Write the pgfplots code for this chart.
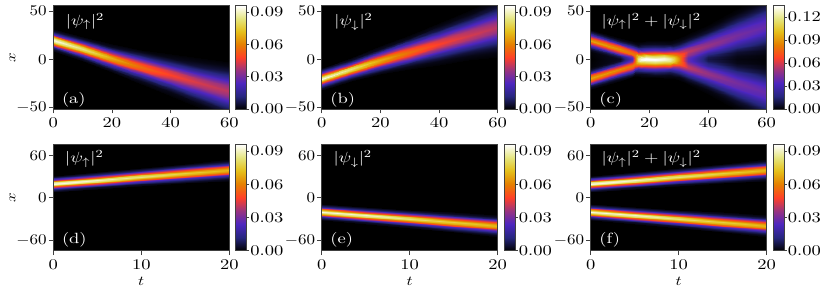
\documentclass[border=0pt]{standalone}
\usepackage{graphicx}
\usepackage{pgfplots}
\usepackage{pgfplotstable}
\pgfplotsset{compat=1.18}
\newcommand{\tfont}{\fontsize{10.95}{13}\selectfont}
\newcommand{\sx}[1]{\scalebox{1.25}[1]{#1}}
\newcommand{\sy}[1]{\scalebox{1.15}[1]{#1}}
\tikzset{lab/.style={text=white, inner sep=0pt, font=\tfont}}
\pgfplotsset{
  colormap={cmr}{rgb=(0,0,0) rgb=(0.15,0.15,0.5) rgb=(0.3,0.15,0.75) rgb=(0.6,0.2,0.5) rgb=(1,0.25,0.15) rgb=(0.9,0.5,0) rgb=(0.9,0.75,0.1) rgb=(0.9,0.9,0.5) rgb=(1,1,1)},
  heat/.style={
    scale only axis, width=130.24pt,
    axis background/.style={fill=black},
    colormap name=cmr,
    axis on top,
    enlargelimits=false,
    tick align=outside, xtick pos=left, ytick pos=left,
    major tick length=3.2pt,
    axis line style={line width=0.6pt, black!75},
    tick style={line width=0.6pt, black!75},
    tick label style={font=\tfont},
    yticklabel style={inner sep=1.5pt},
    label style={font=\tfont},
    xticklabel={\sx{$\pgfmathprintnumber{\tick}$}},
    yticklabel={\sy{$\pgfmathprintnumber{\tick}$}},
    point meta min=0,
    colorbar,
    colorbar shift/.style={xshift=4.74pt},
    colorbar style={
      at={(parent axis.north east)}, anchor=north west,
      width=8.14pt,
      tick align=outside, ytick pos=right, yticklabel pos=right,
      major tick length=2pt,
      axis line style={line width=0.6pt, black!75},
      tick style={line width=0.6pt, black!75},
      scaled y ticks=false,
      yticklabel style={font=\tfont, inner sep=0.6pt},
      yticklabel={\sx{$\pgfmathprintnumber[fixed,fixed zerofill,precision=2]{\tick}$}},
    },
    every axis y label/.style={at={(rel axis cs:-0.232,0.5)}, rotate=90, anchor=center},
    every axis x label/.style={at={(rel axis cs:0.5,-0.285)}, anchor=center},
  },
  toprow/.style={heat, height=76.44pt, xmin=0, xmax=60, ymin=-51.5, ymax=55.5,
    xtick={0,20,40,60}, ytick={-50,0,50}},
  botrow/.style={heat, height=78.74pt, xmin=0, xmax=20, ymin=-75, ymax=76,
    xtick={0,10,20}, ytick={-60,0,60}},
}
\pgfplotstableread{
t x xm c
0 8.6 -8.6 0.00104
0 10.5 -10.5 0.00413
0 12.4 -12.4 0.01272
0 14.3 -14.3 0.03052
0 16.2 -16.2 0.05701
0 18.1 -18.1 0.08296
0 20 -20 0.094
0 21.9 -21.9 0.08296
0 23.8 -23.8 0.05701
0 25.7 -25.7 0.03052
0 27.6 -27.6 0.01272
0 29.5 -29.5 0.00413
0 31.4 -31.4 0.00104
10 -1.77 1.77 0.00093
10 0.275 -0.275 0.00369
10 2.32 -2.32 0.01137
10 4.365 -4.365 0.02727
10 6.41 -6.41 0.05095
10 8.455 -8.455 0.07413
10 10.5 -10.5 0.084
10 12.545 -12.545 0.07413
10 14.59 -14.59 0.05095
10 16.635 -16.635 0.02727
10 18.68 -18.68 0.01137
10 20.725 -20.725 0.00369
10 22.77 -22.77 0.00093
20 -13.61 13.61 0.00077
20 -11.175 11.175 0.00303
20 -8.74 8.74 0.00934
20 -6.305 6.305 0.0224
20 -3.87 3.87 0.04185
20 -1.435 1.435 0.06089
20 1.0 -1.0 0.069
20 3.435 -3.435 0.06089
20 5.87 -5.87 0.04185
20 8.305 -8.305 0.0224
20 10.74 -10.74 0.00934
20 13.175 -13.175 0.00303
20 15.61 -15.61 0.00077
30 -25.47 25.47 0.00063
30 -22.5 22.5 0.0025
30 -19.53 19.53 0.00771
30 -16.56 16.56 0.01851
30 -13.59 13.59 0.03457
30 -10.62 10.62 0.0503
30 -7.65 7.65 0.057
30 -4.68 4.68 0.0503
30 -1.71 1.71 0.03457
30 1.26 -1.26 0.01851
30 4.23 -4.23 0.00771
30 7.2 -7.2 0.0025
30 10.17 -10.17 0.00063
40 -37.66 37.66 0.00053
40 -34.075 34.075 0.00211
40 -30.49 30.49 0.00649
40 -26.905 26.905 0.01559
40 -23.32 23.32 0.02911
40 -19.735 19.735 0.04236
40 -16.15 16.15 0.048
40 -12.565 12.565 0.04236
40 -8.98 8.98 0.02911
40 -5.395 5.395 0.01559
40 -1.81 1.81 0.00649
40 1.775 -1.775 0.00211
40 5.36 -5.36 0.00053
50 -50.45 50.45 0.00048
50 -46.15 46.15 0.00189
50 -41.85 41.85 0.00582
50 -37.55 37.55 0.01396
50 -33.25 33.25 0.02608
50 -28.95 28.95 0.03795
50 -24.65 24.65 0.043
50 -20.35 20.35 0.03795
50 -16.05 16.05 0.02608
50 -11.75 11.75 0.01396
50 -7.45 7.45 0.00582
50 -3.15 3.15 0.00189
50 1.15 -1.15 0.00048
60 -64.05 64.05 0.00044
60 -58.9 58.9 0.00176
60 -53.75 53.75 0.00541
60 -48.6 48.6 0.01299
60 -43.45 43.45 0.02426
60 -38.3 38.3 0.0353
60 -33.15 33.15 0.040
60 -28.0 28.0 0.0353
60 -22.85 22.85 0.02426
60 -17.7 17.7 0.01299
60 -12.55 12.55 0.00541
60 -7.4 7.4 0.00176
60 -2.25 2.25 0.00044
}\tabA
\pgfplotstableread{
t x xm c
0 0 0 0
0 8.1 -8.1 0.00104
0 10.0 -10.0 0.00413
0 11.9 -11.9 0.01272
0 13.8 -13.8 0.03052
0 15.7 -15.7 0.05701
0 17.6 -17.6 0.08296
0 19.5 -19.5 0.094
0 21.4 -21.4 0.08296
0 23.3 -23.3 0.05701
0 25.2 -25.2 0.03052
0 27.1 -27.1 0.01272
0 29.0 -29.0 0.00413
0 30.9 -30.9 0.00104
10 0 0 0.00427
10 1.5 -1.5 0.00641
10 3 -3 0.01338
10 4.5 -4.5 0.02619
10 6 -6 0.04445
10 7.5 -7.5 0.06496
10 9 -9 0.08157
10 10.5 -10.5 0.088
10 12.425 -12.425 0.07766
10 14.35 -14.35 0.05337
10 16.275 -16.275 0.02857
10 18.2 -18.2 0.01191
10 20.125 -20.125 0.00386
10 22.05 -22.05 0.00098
14 0 0 0.03318
14 1 -1 0.03546
14 2 -2 0.04196
14 3 -3 0.05144
14 4 -4 0.06214
14 5 -5 0.07193
14 6 -6 0.07876
14 7 -7 0.08115
14 8.965 -8.965 0.07151
14 10.93 -10.93 0.04913
14 12.895 -12.895 0.0263
14 14.86 -14.86 0.01096
14 16.825 -16.825 0.00356
14 18.79 -18.79 0.0009
15 0 0 0.07778
15 0.714 -0.714 0.07825
15 1.429 -1.429 0.07951
15 2.143 -2.143 0.08128
15 2.857 -2.857 0.08308
15 3.571 -3.571 0.0844
15 4.286 -4.286 0.08472
15 5 -5 0.08364
15 7.1 -7.1 0.07097
15 9.2 -9.2 0.04817
15 11.3 -11.3 0.02569
15 13.4 -13.4 0.01069
15 15.5 -15.5 0.00347
15 17.6 -17.6 0.00088
16 0 0 0.12011
16 0.457 -0.457 0.11981
16 0.914 -0.914 0.11891
16 1.371 -1.371 0.11741
16 1.829 -1.829 0.11533
16 2.286 -2.286 0.11268
16 2.743 -2.743 0.10951
16 3.2 -3.2 0.10583
16 5.6 -5.6 0.08016
16 8 -8 0.05042
16 10.4 -10.4 0.02571
16 12.8 -12.8 0.01044
16 15.2 -15.2 0.00335
16 17.6 -17.6 0.00084
17 0 0 0.13212
17 0.314 -0.314 0.13192
17 0.629 -0.629 0.13135
17 0.943 -0.943 0.1304
17 1.257 -1.257 0.12907
17 1.571 -1.571 0.12739
17 1.886 -1.886 0.12537
17 2.2 -2.2 0.12301
17 4.85 -4.85 0.09326
17 7.5 -7.5 0.05716
17 10.15 -10.15 0.02814
17 12.8 -12.8 0.01105
17 15.45 -15.45 0.00344
17 18.1 -18.1 0.00085
19 0 0 0.135
19 0.171 -0.171 0.135
19 0.343 -0.343 0.13485
19 0.514 -0.514 0.13456
19 0.686 -0.686 0.13418
19 0.857 -0.857 0.13367
19 1.029 -1.029 0.13307
19 1.2 -1.2 0.13234
19 4.1 -4.1 0.10634
19 7.0 -7.0 0.06725
19 9.9 -9.9 0.03346
19 12.8 -12.8 0.01308
19 15.7 -15.7 0.00402
19 18.6 -18.6 0.00097
22 0 0 0.1348
22 0.114 -0.114 0.1347
22 0.229 -0.229 0.1346
22 0.343 -0.343 0.1344
22 0.457 -0.457 0.1342
22 0.571 -0.571 0.134
22 0.686 -0.686 0.1338
22 0.8 -0.8 0.13363
22 3.8 -3.8 0.11069
22 6.8 -6.8 0.07173
22 9.8 -9.8 0.03636
22 12.8 -12.8 0.01441
22 15.8 -15.8 0.00447
22 18.8 -18.8 0.00108
25 0 0 0.13018
25 0.143 -0.143 0.13014
25 0.286 -0.286 0.13004
25 0.429 -0.429 0.12986
25 0.571 -0.571 0.12961
25 0.714 -0.714 0.12929
25 0.857 -0.857 0.12889
25 1 -1 0.12844
25 4 -4 0.10489
25 7 -7 0.06716
25 10 -10 0.03373
25 13 -13 0.01327
25 16 -16 0.00409
25 19 -19 0.00099
27 0 0 0.12338
27 0.229 -0.229 0.12329
27 0.457 -0.457 0.12303
27 0.686 -0.686 0.12261
27 0.914 -0.914 0.12202
27 1.143 -1.143 0.12125
27 1.371 -1.371 0.12033
27 1.6 -1.6 0.11924
27 4.55 -4.55 0.09365
27 7.5 -7.5 0.0583
27 10.45 -10.45 0.02873
27 13.4 -13.4 0.01119
27 16.35 -16.35 0.00344
27 19.3 -19.3 0.00083
28 0 0 0.11383
28 0.343 -0.343 0.11366
28 0.686 -0.686 0.11317
28 1.029 -1.029 0.11235
28 1.371 -1.371 0.11122
28 1.714 -1.714 0.10977
28 2.057 -2.057 0.10804
28 2.4 -2.4 0.10602
28 5.3 -5.3 0.0804
28 8.2 -8.2 0.04928
28 11.1 -11.1 0.02426
28 14 -14 0.00953
28 16.9 -16.9 0.00296
28 19.8 -19.8 0.00073
30 0 0 0.08786
30 0.643 -0.643 0.08765
30 1.286 -1.286 0.08703
30 1.929 -1.929 0.08596
30 2.571 -2.571 0.08446
30 3.214 -3.214 0.08251
30 3.857 -3.857 0.08011
30 4.5 -4.5 0.07725
30 7.35 -7.35 0.05986
30 10.2 -10.2 0.03855
30 13.05 -13.05 0.02
30 15.9 -15.9 0.00822
30 18.75 -18.75 0.00265
30 21.6 -21.6 0.00067
33 0 0 0.03827
33 1.214 -1.214 0.03922
33 2.429 -2.429 0.04187
33 3.643 -3.643 0.0457
33 4.857 -4.857 0.04992
33 6.071 -6.071 0.05369
33 7.286 -7.286 0.05616
33 8.5 -8.5 0.05676
33 11.4 -11.4 0.04958
33 14.3 -14.3 0.03399
33 17.2 -17.2 0.01818
33 20.1 -20.1 0.00758
33 23 -23 0.00246
33 25.9 -25.9 0.00062
40 0 0 0.00941
40 2.143 -2.143 0.0111
40 4.286 -4.286 0.01598
40 6.429 -6.429 0.02351
40 8.571 -8.571 0.03254
40 10.714 -10.714 0.04128
40 12.857 -12.857 0.04766
40 15 -15 0.05
40 18.45 -18.45 0.04413
40 21.9 -21.9 0.03033
40 25.35 -25.35 0.01624
40 28.8 -28.8 0.00677
40 32.25 -32.25 0.0022
40 35.7 -35.7 0.00056
50 0 0 0.00215
50 3.571 -3.571 0.0032
50 7.143 -7.143 0.00663
50 10.714 -10.714 0.0129
50 14.286 -14.286 0.02183
50 17.857 -17.857 0.03181
50 21.429 -21.429 0.03988
50 25 -25 0.043
50 29.6 -29.6 0.03795
50 34.2 -34.2 0.02608
50 38.8 -38.8 0.01396
50 43.4 -43.4 0.00582
50 48 -48 0.00189
50 52.6 -52.6 0.00048
60 0 0 0.00076
60 5 -5 0.00139
60 10 -10 0.00369
60 15 -15 0.0086
60 20 -20 0.01666
60 25 -25 0.02672
60 30 -30 0.03548
60 35 -35 0.039
60 40.75 -40.75 0.03442
60 46.5 -46.5 0.02365
60 52.25 -52.25 0.01266
60 58 -58 0.00528
60 63.75 -63.75 0.00171
60 69.5 -69.5 0.00043
}\tabC
\pgfplotstableread{
t x xm c
0 8.6 -8.6 0.00104
0 10.5 -10.5 0.00413
0 12.4 -12.4 0.01272
0 14.3 -14.3 0.03052
0 16.2 -16.2 0.05701
0 18.1 -18.1 0.08296
0 20 -20 0.094
0 21.9 -21.9 0.08296
0 23.8 -23.8 0.05701
0 25.7 -25.7 0.03052
0 27.6 -27.6 0.01272
0 29.5 -29.5 0.00413
0 31.4 -31.4 0.00104
5 13.05 -13.05 0.00101
5 15.025 -15.025 0.004
5 17.0 -17.0 0.01231
5 18.975 -18.975 0.02955
5 20.95 -20.95 0.05519
5 22.925 -22.925 0.08031
5 24.9 -24.9 0.091
5 26.875 -26.875 0.08031
5 28.85 -28.85 0.05519
5 30.825 -30.825 0.02955
5 32.8 -32.8 0.01231
5 34.775 -34.775 0.004
5 36.75 -36.75 0.00101
10 16.9 -16.9 0.00093
10 19.05 -19.05 0.00369
10 21.2 -21.2 0.01137
10 23.35 -23.35 0.02727
10 25.5 -25.5 0.05095
10 27.65 -27.65 0.07413
10 29.8 -29.8 0.084
10 31.95 -31.95 0.07413
10 34.1 -34.1 0.05095
10 36.25 -36.25 0.02727
10 38.4 -38.4 0.01137
10 40.55 -40.55 0.00369
10 42.7 -42.7 0.00093
15 20.6 -20.6 0.00085
15 22.95 -22.95 0.00338
15 25.3 -25.3 0.01042
15 27.65 -27.65 0.025
15 30.0 -30.0 0.0467
15 32.35 -32.35 0.06795
15 34.7 -34.7 0.077
15 37.05 -37.05 0.06795
15 39.4 -39.4 0.0467
15 41.75 -41.75 0.025
15 44.1 -44.1 0.01042
15 46.45 -46.45 0.00338
15 48.8 -48.8 0.00085
20 24.3 -24.3 0.00079
20 26.85 -26.85 0.00312
20 29.4 -29.4 0.00961
20 31.95 -31.95 0.02305
20 34.5 -34.5 0.04306
20 37.05 -37.05 0.06266
20 39.6 -39.6 0.071
20 42.15 -42.15 0.06266
20 44.7 -44.7 0.04306
20 47.25 -47.25 0.02305
20 49.8 -49.8 0.00961
20 52.35 -52.35 0.00312
20 54.9 -54.9 0.00079
}\tabD
\begin{document}
\begin{tikzpicture}
\useasboundingbox (0,0) rectangle (608.28pt,219.04pt);
% (a)
\begin{axis}[toprow, at={(39.44pt,214.78pt)}, anchor=north west, point meta max=0.096,
  ylabel={\sx{$x$}}, colorbar style={ytick={0,0.03,0.06,0.09}}]
\addplot[surf, shader=interp, mesh/cols=13, point meta=explicit] table[x=t, y=x, meta=c] {\tabA};
\node[lab, anchor=north west] at (rel axis cs:0.07,0.93) {\sx{$|\psi_\uparrow|^2$}};
\node[lab, anchor=south west] at (rel axis cs:0.048,0.018) {\sx{(a)}};
\end{axis}
% (b)
\begin{axis}[toprow, at={(238.06pt,214.78pt)}, anchor=north west, point meta max=0.096,
  colorbar style={ytick={0,0.03,0.06,0.09}}]
\addplot[surf, shader=interp, mesh/cols=13, point meta=explicit] table[x=t, y=xm, meta=c] {\tabA};
\node[lab, anchor=north west] at (rel axis cs:0.07,0.93) {\sx{$|\psi_\downarrow|^2$}};
\node[lab, anchor=south west] at (rel axis cs:0.048,0.018) {\sx{(b)}};
\end{axis}
% (c)
\begin{axis}[toprow, at={(437.12pt,214.78pt)}, anchor=north west, point meta max=0.135,
  colorbar style={ytick={0,0.03,0.06,0.09,0.12}}]
\addplot[surf, shader=interp, mesh/cols=14, point meta=explicit] table[x=t, y=x, meta=c] {\tabC};
\addplot[surf, shader=interp, mesh/cols=14, point meta=explicit] table[x=t, y=xm, meta=c] {\tabC};
\node[lab, anchor=north west] at (rel axis cs:0.06,0.93) {\sx{$|\psi_\uparrow|^2+|\psi_\downarrow|^2$}};
\node[lab, anchor=south west] at (rel axis cs:0.048,0.018) {\sx{(c)}};
\end{axis}
% (d)
\begin{axis}[botrow, at={(39.44pt,112.22pt)}, anchor=north west, point meta max=0.096,
  ylabel={\sx{$x$}}, xlabel={\sx{$t$}}, colorbar style={ytick={0,0.03,0.06,0.09}}]
\addplot[surf, shader=interp, mesh/cols=13, point meta=explicit] table[x=t, y=x, meta=c] {\tabD};
\node[lab, anchor=north west] at (rel axis cs:0.066,0.945) {\sx{$|\psi_\uparrow|^2$}};
\node[lab, anchor=south west] at (rel axis cs:0.048,0.035) {\sx{(d)}};
\end{axis}
% (e)
\begin{axis}[botrow, at={(238.06pt,112.22pt)}, anchor=north west, point meta max=0.096,
  xlabel={\sx{$t$}}, colorbar style={ytick={0,0.03,0.06,0.09}}]
\addplot[surf, shader=interp, mesh/cols=13, point meta=explicit] table[x=t, y=xm, meta=c] {\tabD};
\node[lab, anchor=north west] at (rel axis cs:0.066,0.945) {\sx{$|\psi_\downarrow|^2$}};
\node[lab, anchor=south west] at (rel axis cs:0.048,0.035) {\sx{(e)}};
\end{axis}
% (f)
\begin{axis}[botrow, at={(437.12pt,112.22pt)}, anchor=north west, point meta max=0.096,
  xlabel={\sx{$t$}}, colorbar style={ytick={0,0.03,0.06,0.09}}]
\addplot[surf, shader=interp, mesh/cols=13, point meta=explicit] table[x=t, y=x, meta=c] {\tabD};
\addplot[surf, shader=interp, mesh/cols=13, point meta=explicit] table[x=t, y=xm, meta=c] {\tabD};
\node[lab, anchor=north west] at (rel axis cs:0.06,0.945) {\sx{$|\psi_\uparrow|^2+|\psi_\downarrow|^2$}};
\node[lab, anchor=south west] at (rel axis cs:0.048,0.035) {\sx{(f)}};
\end{axis}
\end{tikzpicture}
\end{document}
